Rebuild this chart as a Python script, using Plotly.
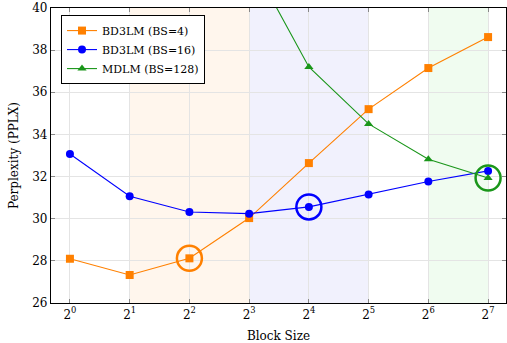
import math
import plotly.graph_objects as go

block_sizes = [1, 2, 4, 8, 16, 32, 64, 128]
tick_labels = ["2<sup>%d</sup>" % k for k in range(8)]

bd3lm_bs4 = [28.1, 27.33, 28.12, 30.03, 32.64, 35.2, 37.15, 38.62]
bd3lm_bs16 = [33.07, 31.07, 30.32, 30.24, 30.56, 31.15, 31.77, 32.27]
mdlm_x = [8, 16, 32, 64, 128]
mdlm_bs128 = [42.4, 37.2, 34.5, 32.82, 31.93]

# highlighted points
hl_x = [4, 16, 128]
hl_y = [28.12, 30.56, 31.93]
hl_colors = ["#ff8000", "#0000ff", "#1a961a"]

# shaded ranges (block sizes)
regions = [(2, 8, "rgba(255,140,30,0.08)"), (8, 32, "rgba(60,60,230,0.07)"), (64, 128, "rgba(40,210,40,0.07)")]

FONT = "DejaVu Serif"
fig = go.Figure()

fig.add_trace(go.Scatter(x=block_sizes, y=bd3lm_bs4, mode="lines+markers", name="BD3LM (BS=4)",
                         line=dict(color="#ff8000", width=1.1),
                         marker=dict(symbol="square", size=8, color="#ff8000")))
fig.add_trace(go.Scatter(x=block_sizes, y=bd3lm_bs16, mode="lines+markers", name="BD3LM (BS=16)",
                         line=dict(color="#0000ff", width=1.1),
                         marker=dict(symbol="circle", size=8, color="#0000ff")))
fig.add_trace(go.Scatter(x=mdlm_x, y=mdlm_bs128, mode="lines+markers", name="MDLM (BS=128)",
                         line=dict(color="#1a961a", width=1.1),
                         marker=dict(symbol="triangle-up", size=8, color="#1a961a")))
fig.add_trace(go.Scatter(x=hl_x, y=hl_y, mode="markers", showlegend=False, hoverinfo="skip",
                         marker=dict(symbol="circle-open", size=25, color=hl_colors,
                                     line=dict(width=2.5, color=hl_colors))))

shapes = []
for a, b, c in regions:
    shapes.append(dict(type="rect", xref="x", yref="paper", x0=a, x1=b,
                       y0=0, y1=1, fillcolor=c, line=dict(width=0), layer="below"))

fig.update_layout(
    width=507, height=343,
    margin=dict(l=51, r=1, t=8, b=40),
    plot_bgcolor="white", paper_bgcolor="white",
    font=dict(family=FONT, size=13, color="black"),
    shapes=shapes,
    legend=dict(x=0.022, y=0.976, xanchor="left", yanchor="top",
                bgcolor="white", bordercolor="black", borderwidth=1,
                font=dict(family=FONT, size=11), tracegroupgap=0,
                itemwidth=30),
    showlegend=True,
)
fig.update_xaxes(type="log", range=[math.log10(2 ** -0.317), math.log10(2 ** 7.3)],
                 tickvals=block_sizes, ticktext=tick_labels,
                 showgrid=True, gridcolor="#e4e4e4", gridwidth=1,
                 ticks="inside", ticklen=4, tickcolor="#888", mirror="allticks",
                 showline=True, linecolor="black", linewidth=1.2,
                 title=dict(text="Block Size", standoff=11, font=dict(size=12)),
                 tickfont=dict(size=12), zeroline=False)
fig.update_yaxes(range=[26, 40], dtick=2, tick0=26,
                 showgrid=True, gridcolor="#e4e4e4", gridwidth=1,
                 ticks="inside", ticklen=4, tickcolor="#888", mirror="allticks",
                 showline=True, linecolor="black", linewidth=1.2,
                 title=dict(text="Perplexity (PPLX)", standoff=11, font=dict(size=12)),
                 tickfont=dict(size=12), zeroline=False)

fig.write_html("out.html", post_script="document.body.style.margin='0';",
               config={"displayModeBar": False})
